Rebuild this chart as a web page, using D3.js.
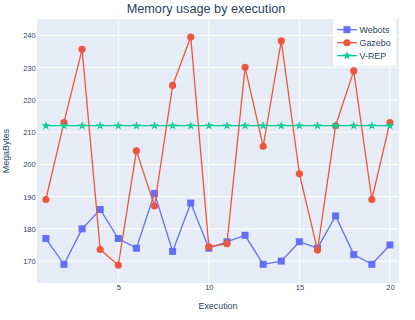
<!DOCTYPE html>
<html><head><meta charset="utf-8">
<script src="https://cdn.jsdelivr.net/npm/d3@7"></script>
<style>body{margin:0;background:#fff}svg{display:block;font-family:"Liberation Sans",Arial,sans-serif}</style>
</head><body><svg id="c" width="415" height="320"></svg>
<script>
const executions = d3.range(1, 21);
const webots = [177,169,180,186,177,174,191,173,188,174,176,178,169,170,176,174,184,172,169,175];
const gazebo = [189.1,213,235.7,173.6,168.7,204.2,187.1,224.5,239.5,174.4,175.4,230.1,205.6,238.3,197.1,173.4,212,229,189.1,213];
const vrep = [212,212,212,212,212,212,212,212,212,212,212,212,212,212,212,212,212,212,212,212];
const xTicks = [5,10,15,20];
const yTicks = [170,180,190,200,210,220,230,240];
const seriesNames = ["Webots","Gazebo","V-REP"];

const colors = {"Webots":"#636efa","Gazebo":"#ef553b","V-REP":"#00cc96"};
const symbols = {"Webots":d3.symbolSquare,"Gazebo":d3.symbolCircle,"V-REP":d3.symbolStar};
const sizes = {"Webots":49,"Gazebo":40,"V-REP":24};
const data = {"Webots":webots,"Gazebo":gazebo,"V-REP":vrep};

const svg = d3.select("#c");
const L=37,R=399,T=19,B=283;
const x = d3.scaleLinear().domain([0.51,20.5]).range([L,R]);
const y = d3.scaleLinear().domain([163.2,245.1]).range([B,T]);
const txt = "#2a3f5f";

svg.append("rect").attr("x",L).attr("y",T).attr("width",R-L).attr("height",B-T).attr("fill","#e5ecf6");
svg.append("g").selectAll("line").data(yTicks).join("line")
  .attr("x1",L).attr("x2",R).attr("y1",d=>y(d)).attr("y2",d=>y(d)).attr("stroke","#fff").attr("stroke-width",1);
svg.append("g").selectAll("line").data(xTicks).join("line")
  .attr("y1",T).attr("y2",B).attr("x1",d=>x(d)).attr("x2",d=>x(d)).attr("stroke","#fff").attr("stroke-width",1);

const yAxis = svg.append("g").attr("transform",`translate(${L-1.2},0)`)
  .call(d3.axisLeft(y).tickValues(yTicks).tickSize(0).tickPadding(0));
yAxis.select(".domain").remove();
yAxis.selectAll("text").attr("fill",txt).style("font-size","7.6px").style("font-family","Liberation Sans");
const xAxis = svg.append("g").attr("transform",`translate(0,${B+2})`)
  .call(d3.axisBottom(x).tickValues(xTicks).tickSize(0).tickPadding(0));
xAxis.select(".domain").remove();
xAxis.selectAll("text").attr("fill",txt).style("font-size","7.6px").style("font-family","Liberation Sans");

svg.append("text").attr("x",206).attr("y",13).attr("text-anchor","middle").attr("fill",txt)
  .style("font-size","12.7px").text("Memory usage by execution");
svg.append("text").attr("x",218).attr("y",309).attr("text-anchor","middle").attr("fill",txt)
  .style("font-size","8.9px").text("Execution");
svg.append("text").attr("transform","translate(8.5,151) rotate(-90)").attr("text-anchor","middle").attr("fill",txt)
  .style("font-size","8.9px").text("MegaBytes");

const clip = svg.append("clipPath").attr("id","pc").append("rect").attr("x",L).attr("y",T).attr("width",R-L).attr("height",B-T);
const plot = svg.append("g").attr("clip-path","url(#pc)");
const line = d3.line().x((d,i)=>x(executions[i])).y(d=>y(d));
seriesNames.forEach(name=>{
  const g = plot.append("g");
  g.append("path").datum(data[name]).attr("d",line).attr("fill","none").attr("stroke",colors[name]).attr("stroke-width",1.3);
  g.selectAll("path.m").data(data[name]).join("path").attr("class","m")
    .attr("transform",(d,i)=>`translate(${x(executions[i])},${y(d)})`)
    .attr("d",d3.symbol(symbols[name],sizes[name])).attr("fill",colors[name]);
});

// legend
const lg = svg.append("g");
lg.append("rect").attr("x",333).attr("y",19).attr("width",63).attr("height",47).attr("fill","#fff");
seriesNames.forEach((name,i)=>{
  const ly = 29.7 + i*13;
  lg.append("line").attr("x1",337).attr("x2",357).attr("y1",ly).attr("y2",ly).attr("stroke",colors[name]).attr("stroke-width",1.3);
  lg.append("path").attr("transform",`translate(347,${ly})`).attr("d",d3.symbol(symbols[name],sizes[name])).attr("fill",colors[name]);
  lg.append("text").attr("x",359.5).attr("y",ly).attr("dy","0.35em").attr("fill",txt).style("font-size","8.9px").text(name);
});
</script></body></html>
